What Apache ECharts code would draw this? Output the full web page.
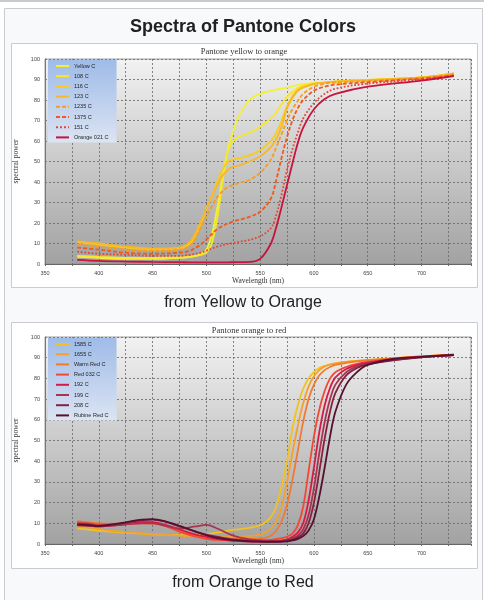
<!DOCTYPE html>
<html>
<head>
<meta charset="utf-8">
<script src="https://cdn.jsdelivr.net/npm/echarts@6/dist/echarts.min.js"></script>
<style>
  html, body { margin: 0; padding: 0; background: #fff; }
  #main { width: 501px; height: 600px; }
</style>
</head>
<body>
<div id="main"></div>
<script>
// wavelengths (nm) for the yellow -> orange chart
const wlYellow = [380, 400, 425, 450, 475, 485, 490, 495, 500, 505, 510, 515, 520, 525, 530, 540, 550, 560, 565, 570, 575, 580, 585, 590, 600, 610, 620, 650, 700, 730];
const yellowC  = [3.5, 3, 2.5, 2.5, 3, 3.5, 4, 5, 7, 14, 27, 42, 56, 65, 72, 80, 83, 84.5, 85, 85.5, 86, 86.8, 87.3, 87.8, 88.3, 88.7, 89, 89.8, 91, 93];
const c108     = [4, 3.5, 3, 3, 3.2, 3.5, 4, 4.5, 5.5, 10, 22, 40, 55, 60, 62, 64, 67, 71, 74, 78, 81.5, 84, 86, 87, 88, 88.5, 89, 89.8, 91, 93];
const c116     = [10.5, 9.5, 8, 7, 7.5, 10, 14, 20, 27, 33, 40, 46, 50, 51, 51.5, 53, 55.5, 60, 64, 70, 77, 82, 85, 86.5, 88, 88.5, 89, 89.8, 91, 93];
const c123     = [11, 10, 8.5, 7.5, 8, 11, 15, 21, 27, 33, 38.5, 43, 46, 47.5, 48, 50, 52.5, 57, 61, 67, 76, 81, 84.5, 86, 87.8, 88.5, 89, 89.7, 91, 93];
const c1235    = [9.5, 8.5, 7, 6.5, 7, 9, 12.5, 18, 23, 28, 32.5, 35.5, 37.5, 38.5, 39.5, 41, 44.5, 51, 57, 63.5, 70, 75.5, 79.5, 83, 86.5, 88, 88.5, 89.3, 90.8, 92.5];
const c1375    = [8, 7, 5.5, 5, 5.5, 6.5, 8, 9.5, 12, 14.5, 17, 18.5, 19.8, 20.8, 21.5, 23, 25.5, 32, 41, 52, 62, 70, 76, 80, 84.5, 86.5, 87.5, 88.7, 90.5, 92];
const c151     = [6, 5, 4.5, 4, 4, 4.5, 5, 5.5, 6.5, 7.5, 8.5, 9.2, 9.8, 10.2, 10.8, 11.8, 13.5, 17.5, 24, 34, 46, 56, 64, 71, 78.5, 83, 85.5, 88, 90, 92];
const orange021 = [2, 1.5, 1.2, 1, 0.9, 0.8, 0.8, 0.8, 0.8, 0.8, 0.8, 0.8, 0.8, 0.9, 0.9, 1, 2.5, 10, 18, 28, 38.5, 49, 59, 66.5, 75.5, 80.5, 83, 86.5, 89.5, 91.7];

// wavelengths (nm) for the orange -> red chart
const wlRed = [380, 390, 400, 410, 425, 440, 450, 460, 475, 490, 500, 510, 525, 540, 550, 555, 560, 565, 570, 575, 580, 585, 590, 595, 600, 605, 610, 615, 620, 630, 640, 650, 675, 700, 730];
const c1585   = [7.5, 7, 6.5, 6, 5.5, 5, 4.7, 4.5, 4.3, 4.3, 4.8, 5.5, 6.8, 7.8, 9, 10.5, 13, 18, 28, 40, 56, 67, 75, 80, 83, 85, 86, 86.8, 87.3, 88, 88.4, 88.8, 89.8, 90.6, 91.5];
const c1655   = [8.5, 8, 7.3, 6.5, 5.8, 5.2, 4.8, 4.5, 4, 3.6, 3.4, 3.3, 3.4, 3.8, 4.5, 5.5, 7.5, 11, 18, 30, 44, 57, 68, 76, 81, 84, 85.8, 86.7, 87.3, 88, 88.5, 88.9, 89.8, 90.6, 91.5];
const warmRed = [11, 10.5, 10, 9.8, 9.8, 10, 9.8, 9, 6.5, 4, 3.2, 2.8, 2.6, 2.5, 2.6, 3, 4, 6.5, 11, 19, 31, 45, 59, 70, 77, 81.5, 84, 85.5, 86.5, 87.5, 88.2, 88.7, 89.7, 90.6, 91.5];
const red032  = [10.5, 10, 9.5, 9.5, 9.8, 10.5, 10.3, 9, 6, 3.5, 2.5, 2, 1.8, 1.7, 1.7, 1.8, 2, 2.3, 2.8, 3.5, 5, 9, 18, 35, 52, 65, 74, 80, 83, 85.5, 87, 88, 89.5, 90.5, 91.5];
const c192    = [9.5, 9, 8.5, 8.8, 9.5, 10.5, 10.5, 9.5, 7, 4.5, 3.5, 2.5, 1.5, 1.2, 1.1, 1.1, 1.2, 1.3, 1.6, 2.2, 3.5, 5.5, 10, 21, 37, 54, 67, 75.5, 80.5, 84.5, 86.5, 87.6, 89.3, 90.4, 91.3];
const c199    = [10, 9.8, 9, 9, 9.5, 10, 10, 9, 7.5, 8.5, 9.2, 7.5, 4, 2.2, 1.8, 1.6, 1.5, 1.5, 1.6, 2, 2.8, 4, 7, 14, 27, 44, 59, 70, 77, 83, 85.8, 87.2, 89, 90.3, 91.2];
const c208    = [9, 8.8, 8.5, 9, 10.3, 11.5, 11.8, 11, 8.5, 6, 4.5, 3.5, 2.2, 1.5, 1.3, 1.2, 1.2, 1.2, 1.3, 1.6, 2.2, 3.2, 5, 10, 20, 35, 51, 64, 73, 81.5, 85, 86.8, 88.8, 90.2, 91.2];
const rubine  = [9.5, 9.2, 8.7, 9.3, 10.5, 11.8, 12, 11.2, 8.8, 6, 4.3, 3, 1.9, 1.3, 1.1, 1, 1, 1, 1.1, 1.3, 1.7, 2.5, 3.8, 6.5, 12, 23, 37, 52, 64, 77, 83, 86.5, 89.5, 90.4, 91.3];

const yTicks = [0, 10, 20, 30, 40, 50, 60, 70, 80, 90, 100];

const chart = echarts.init(document.getElementById('main'));

const pair = (wl, vals) => wl.map((w, i) => [w, vals[i]]);

const mkSeries = (name, wl, vals, color, type, idx) => ({
  name: name,
  type: 'line',
  xAxisIndex: idx,
  yAxisIndex: idx,
  data: pair(wl, vals),
  smooth: 0.35,
  symbol: 'none',
  lineStyle: { color: color, width: 1.8, type: type },
  itemStyle: { color: color },
  z: 3
});

const plotBg = {
  type: 'linear', x: 0, y: 0, x2: 0, y2: 1,
  colorStops: [{ offset: 0, color: '#f2f2f2' }, { offset: 1, color: '#a2a2a2' }]
};
const legendBg = {
  type: 'linear', x: 0, y: 0, x2: 0, y2: 1,
  colorStops: [{ offset: 0, color: '#9fbbe8' }, { offset: 1, color: '#dbe4f3' }]
};

const mkX = (idx) => ({
  type: 'value', gridIndex: idx, min: 350, max: 746, interval: 25,
  name: 'Wavelength (nm)', nameLocation: 'middle', nameGap: 13,
  nameTextStyle: { fontFamily: 'Liberation Serif', fontSize: 7.5, color: '#333' },
  axisLine: { lineStyle: { color: '#666', width: 1 } },
  axisTick: { length: 2, lineStyle: { color: '#666' } },
  axisLabel: {
    fontSize: 5.5, color: '#444', margin: 6, fontFamily: 'Liberation Sans',
    formatter: v => (v % 50 === 0 ? String(v) : '')
  },
  splitLine: { show: true, lineStyle: { color: '#666', width: 0.8, type: [2, 2] } }
});
const mkY = (idx) => ({
  type: 'value', gridIndex: idx, min: yTicks[0], max: yTicks[yTicks.length - 1], interval: 10,
  name: 'spectral power', nameLocation: 'middle', nameGap: 19,
  nameTextStyle: { fontFamily: 'Liberation Serif', fontSize: 7.5, color: '#333' },
  axisLine: { show: true, lineStyle: { color: '#777', width: 1 } },
  axisTick: { show: false },
  axisLabel: { fontSize: 5.5, color: '#444', margin: 5, fontFamily: 'Liberation Sans' },
  splitLine: { show: true, lineStyle: { color: '#666', width: 0.8, type: [2, 2] } }
});
const mkLegend = (top, names) => ({
  data: names, orient: 'vertical', left: 48, top: top,
  backgroundColor: legendBg,
  padding: [3, 8, 2, 7],
  itemWidth: 13, itemHeight: 6, itemGap: 4.2,
  itemStyle: { opacity: 0 },
  lineStyle: { width: 2 },
  textStyle: { fontSize: 5.5, color: '#222', fontFamily: 'Liberation Sans' },
  selectedMode: false
});

const yellowSeries = [
  ['Yellow C', yellowC, '#f2f234', 'solid'],
  ['108 C', c108, '#f8e82a', 'solid'],
  ['116 C', c116, '#f8cc1c', 'solid'],
  ['123 C', c123, '#f6b828', 'solid'],
  ['1235 C', c1235, '#f59c22', [4, 2]],
  ['1375 C', c1375, '#ee5a1c', [4, 2]],
  ['151 C', c151, '#e44638', 'dotted'],
  ['Orange 021 C', orange021, '#c6143e', 'solid']
];
const redSeries = [
  ['1585 C', c1585, '#f2c21e', 'solid'],
  ['1655 C', c1655, '#f4a030', 'solid'],
  ['Warm Red C', warmRed, '#f07a32', 'solid'],
  ['Red 032 C', red032, '#f04a36', 'solid'],
  ['192 C', c192, '#d61a48', 'solid'],
  ['199 C', c199, '#a83450', 'solid'],
  ['208 C', c208, '#842240', 'solid'],
  ['Rubine Red C', rubine, '#561030', 'solid']
];

const series = []
  .concat(yellowSeries.map(s => mkSeries(s[0], wlYellow, s[1], s[2], s[3], 0)))
  .concat(redSeries.map(s => mkSeries(s[0], wlRed, s[1], s[2], s[3], 1)));

const option = {
  backgroundColor: '#fff',
  animation: false,
  grid: [
    { left: 45, right: 30, top: 59, height: 205, show: true, backgroundColor: plotBg, borderColor: '#888', borderWidth: 0.8 },
    { left: 45, right: 30, top: 337, height: 207, show: true, backgroundColor: plotBg, borderColor: '#888', borderWidth: 0.8 }
  ],
  xAxis: [mkX(0), mkX(1)],
  yAxis: [mkY(0), mkY(1)],
  legend: [
    mkLegend(60, yellowSeries.map(s => s[0])),
    mkLegend(338, redSeries.map(s => s[0]))
  ],
  graphic: [
    { type: 'rect', z: -10, shape: { x: 0, y: 0, width: 484, height: 2 }, style: { fill: '#c8ccd1' } },
    { type: 'rect', z: -10, shape: { x: 4.5, y: 8.5, width: 478, height: 600 }, style: { fill: '#f8f9fa', stroke: '#c8ccd1', lineWidth: 1 } },
    { type: 'rect', z: -9, shape: { x: 11.5, y: 43.5, width: 466, height: 244 }, style: { fill: '#fff', stroke: '#c8ccd1', lineWidth: 1 } },
    { type: 'rect', z: -9, shape: { x: 11.5, y: 322.5, width: 466, height: 246 }, style: { fill: '#fff', stroke: '#c8ccd1', lineWidth: 1 } },
    { type: 'text', x: 243, y: 27, style: { text: 'Spectra of Pantone Colors', fontFamily: 'Liberation Sans', fontWeight: 'bold', fontSize: 18, fill: '#202122', align: 'center', verticalAlign: 'middle' } },
    { type: 'text', x: 244, y: 51.5, style: { text: 'Pantone yellow to orange', fontFamily: 'Liberation Serif', fontSize: 8.5, fill: '#333', align: 'center', verticalAlign: 'middle' } },
    { type: 'text', x: 243, y: 303, style: { text: 'from Yellow to Orange', fontFamily: 'Liberation Sans', fontSize: 16, fill: '#202122', align: 'center', verticalAlign: 'middle' } },
    { type: 'text', x: 249, y: 331, style: { text: 'Pantone orange to red', fontFamily: 'Liberation Serif', fontSize: 8.5, fill: '#333', align: 'center', verticalAlign: 'middle' } },
    { type: 'text', x: 243, y: 583, style: { text: 'from Orange to Red', fontFamily: 'Liberation Sans', fontSize: 16, fill: '#202122', align: 'center', verticalAlign: 'middle' } }
  ],
  series: series
};

chart.setOption(option);
</script>
</body>
</html>
